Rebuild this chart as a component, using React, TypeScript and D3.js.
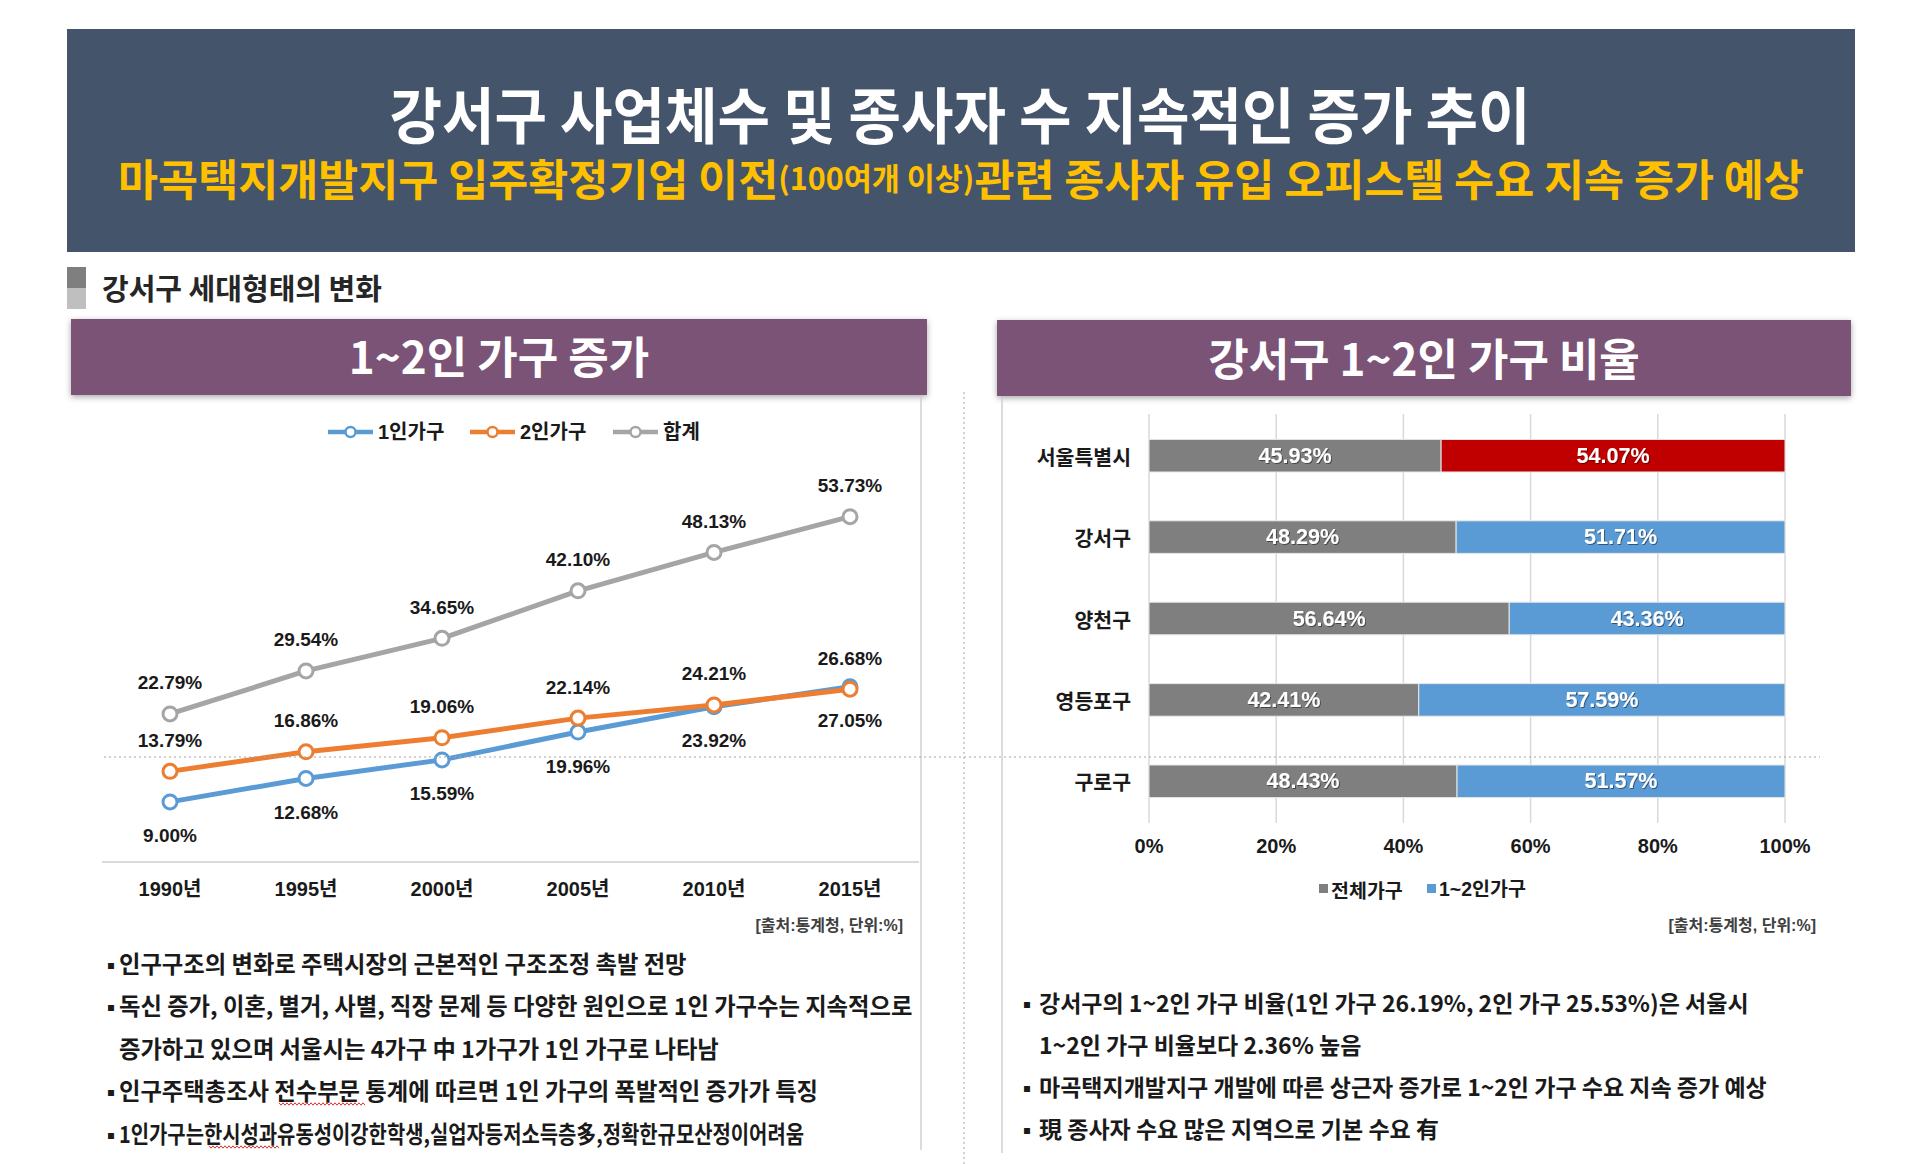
import React from 'react';
import * as d3 from 'd3';

// ---------- data ----------
const years = ['1990년', '1995년', '2000년', '2005년', '2010년', '2015년'];
const onePerson = [9.0, 12.68, 15.59, 19.96, 23.92, 27.05];
const twoPerson = [13.79, 16.86, 19.06, 22.14, 24.21, 26.68];
const totalSmall = [22.79, 29.54, 34.65, 42.1, 48.13, 53.73];
const lineSeriesNames = ['1인가구', '2인가구', '합계'];

const regions = ['서울특별시', '강서구', '양천구', '영등포구', '구로구'];
const allHouseholds = [45.93, 48.29, 56.64, 42.41, 48.43];
const smallHouseholds = [54.07, 51.71, 43.36, 57.59, 51.57];
const barSeriesNames = ['전체가구', '1~2인가구'];
const pctTicks = [0, 20, 40, 60, 80, 100];

const mainTitle = '강서구 사업체수 및 종사자 수 지속적인 증가 추이';
const subTitleA = '마곡택지개발지구 입주확정기업 이전';
const subTitleB = '(100여개 이상)';
const subTitleC = '관련 종사자 유입 오피스텔 수요 지속 증가 예상';
const sectionTitle = '강서구 세대형태의 변화';
const leftBanner = '1~2인 가구 증가';
const rightBanner = '강서구 1~2인 가구 비율';
const sourceText = '[출처:통계청, 단위:%]';

const leftBullets = [
  { b: true, t: '인구구조의 변화로 주택시장의 근본적인 구조조정 촉발 전망' },
  { b: true, t: '독신 증가, 이혼, 별거, 사별, 직장 문제 등 다양한 원인으로 1인 가구수는 지속적으로' },
  { b: false, t: '증가하고 있으며 서울시는 4가구 中 1가구가 1인 가구로 나타남' },
  { b: true, t: '인구주택총조사 전수부문 통계에 따르면 1인 가구의 폭발적인 증가가 특징' },
  { b: true, t: '1인가구는한시성과유동성이강한학생,실업자등저소득층多,정확한규모산정이어려움', squeeze: true },
];
const rightBullets = [
  { b: true, t: '강서구의 1~2인 가구 비율(1인 가구 26.19%, 2인 가구 25.53%)은 서울시' },
  { b: false, t: '1~2인 가구 비율보다 2.36% 높음' },
  { b: true, t: '마곡택지개발지구 개발에 따른 상근자 증가로 1~2인 가구 수요 지속 증가 예상' },
  { b: true, t: '現 종사자 수요 많은 지역으로 기본 수요 有' },
];

// ---------- styles ----------
const KR = "'Noto Sans CJK KR', sans-serif";
const NUM = "'Liberation Sans', Arial, 'Noto Sans CJK KR', sans-serif";
const BLUE = '#5B9BD5';
const ORANGE = '#ED7D31';
const GRAY = '#A5A5A5';
const BAR_GRAY = '#7F7F7F';
const RED = '#C00000';
const PURPLE = '#7A5276';
const HEADER = '#44546A';
const YELLOW = '#FFC000';
const TEXT = '#1a1a1a';

function wavy(x0: number, x1: number, y: number) {
  const pts: [number, number][] = [];
  let up = true;
  for (let x = x0; x <= x1; x += 2) {
    pts.push([x, up ? y - 1.2 : y + 1.2]);
    up = !up;
  }
  return d3.line()(pts) || '';
}

export default function App() {
  // ----- line chart scales -----
  const xBand = d3.scaleBand<string>().domain(years).range([102, 918]);
  const xc = (i: number) => (xBand(years[i]) as number) + xBand.bandwidth() / 2;
  const y = d3.scaleLinear().domain([0, 60]).range([859.3, 476.7]);
  const lineGen = d3
    .line<number>()
    .x((_, i) => xc(i))
    .y((d) => y(d));
  const series = [
    { name: lineSeriesNames[0], values: onePerson, color: BLUE, labelPos: 'below' },
    { name: lineSeriesNames[1], values: twoPerson, color: ORANGE, labelPos: 'above' },
    { name: lineSeriesNames[2], values: totalSmall, color: GRAY, labelPos: 'above' },
  ];
  const legendX = [328, 470, 613];

  // ----- bar chart scales -----
  const yBand = d3.scaleBand<string>().domain(regions).range([415, 822]).paddingInner(0.6).paddingOuter(0.3);
  const xPct = d3.scaleLinear().domain([0, 100]).range([1149, 1785]);
  const stacked = regions.map((r, i) => ({
    region: r,
    segs: [
      { x0: 0, x1: allHouseholds[i], v: allHouseholds[i], color: BAR_GRAY },
      {
        x0: allHouseholds[i],
        x1: allHouseholds[i] + smallHouseholds[i],
        v: smallHouseholds[i],
        color: i === 0 ? RED : BLUE,
      },
    ],
  }));

  const leftLineY = [963, 1005, 1048, 1090, 1133];
  const rightLineY = [1002, 1044, 1086, 1128];

  return (
    <svg
      width={1920}
      height={1164}
      viewBox="0 0 1920 1164"
      style={{ position: 'absolute', left: 0, top: 0, background: '#fff' }}
    >
      <defs>
        <filter id="bannerShadow" x="-5%" y="-30%" width="110%" height="160%">
          <feDropShadow dx="0" dy="2" stdDeviation="3" floodColor="#000" floodOpacity="0.35" />
        </filter>
        <filter id="txtShadow" x="-10%" y="-30%" width="120%" height="160%">
          <feDropShadow dx="1" dy="1" stdDeviation="0.7" floodColor="#000" floodOpacity="0.45" />
        </filter>
      </defs>
      <rect x={0} y={0} width={1920} height={1164} fill="#fff" />

      {/* Header */}
      <rect x={67} y={29} width={1788} height={223} fill={HEADER} />
      <text
        x={960}
        y={112}
        textAnchor="middle"
        dominantBaseline="central"
        fontFamily={KR}
        fontWeight={700}
        fontSize={61}
        fill="#fff"
        textLength={1141}
        lengthAdjust="spacingAndGlyphs"
      >
        {mainTitle}
      </text>
      <text
        x={961}
        y={177}
        textAnchor="middle"
        dominantBaseline="central"
        fontFamily={KR}
        fontWeight={700}
        fontSize={43.5}
        fill={YELLOW}
      >
        <tspan>{subTitleA}</tspan>
        <tspan fontSize={30.5}>{subTitleB}</tspan>
        <tspan>{subTitleC}</tspan>
      </text>

      {/* Section title */}
      <rect x={67} y={267} width={19} height={21} fill="#7F7F7F" />
      <rect x={67} y={288} width={19} height={21} fill="#BFBFBF" />
      <text x={102} y={287} dominantBaseline="central" fontFamily={KR} fontWeight={700} fontSize={29} fill="#262626">
        {sectionTitle}
      </text>

      {/* Banners */}
      <rect x={71} y={319} width={856} height={76} fill={PURPLE} filter="url(#bannerShadow)" />
      <text x={499} y={355} textAnchor="middle" dominantBaseline="central" fontFamily={KR} fontWeight={700} fontSize={44} fill="#fff">
        {leftBanner}
      </text>
      <rect x={997} y={320} width={854} height={76} fill={PURPLE} filter="url(#bannerShadow)" />
      <text x={1424} y={357} textAnchor="middle" dominantBaseline="central" fontFamily={KR} fontWeight={700} fontSize={44} fill="#fff">
        {rightBanner}
      </text>

      {/* separators */}
      <line x1={921} y1={396} x2={921} y2={1150} stroke="#D0D0D0" strokeWidth={1.5} />
      <line x1={1002} y1={397} x2={1002} y2={1153} stroke="#D0D0D0" strokeWidth={1.5} />
      <line x1={964} y1={392} x2={964} y2={1164} stroke="#A6A6A6" strokeWidth={1} strokeDasharray="2,3" />

      {/* ---------- Line chart ---------- */}
      {series.map((s, k) => (
        <g key={'lg' + k}>
          <line x1={legendX[k]} x2={legendX[k] + 45} y1={432} y2={432} stroke={s.color} strokeWidth={4.5} />
          <circle cx={legendX[k] + 22.5} cy={432} r={5} fill="#fff" stroke={s.color} strokeWidth={2.5} />
          <text
            x={legendX[k] + 50}
            y={432}
            dominantBaseline="central"
            fontFamily={NUM}
            fontWeight={700}
            fontSize={20}
            fill={TEXT}
          >
            {s.name}
          </text>
        </g>
      ))}
      <line x1={102} x2={919} y1={862} y2={862} stroke="#D9D9D9" strokeWidth={2} />
      {years.map((yr, i) => (
        <text
          key={yr}
          x={xc(i)}
          y={889}
          textAnchor="middle"
          dominantBaseline="central"
          fontFamily={NUM}
          fontWeight={700}
          fontSize={20}
          fill={TEXT}
        >
          {yr}
        </text>
      ))}
      {series.map((s, k) => (
        <g key={'s' + k}>
          <path d={lineGen(s.values) || ''} fill="none" stroke={s.color} strokeWidth={5} strokeLinejoin="round" />
          {s.values.map((v, i) => (
            <circle key={i} cx={xc(i)} cy={y(v)} r={7} fill="#fff" stroke={s.color} strokeWidth={3} />
          ))}
        </g>
      ))}
      {series.map((s, k) =>
        s.values.map((v, i) => (
          <text
            key={'l' + k + '-' + i}
            x={xc(i)}
            y={y(v) + (s.labelPos === 'above' ? -31 : 34)}
            textAnchor="middle"
            dominantBaseline="central"
            fontFamily={NUM}
            fontWeight={700}
            fontSize={19}
            fill={TEXT}
          >
            {v.toFixed(2) + '%'}
          </text>
        ))
      )}
      <text x={903} y={925} textAnchor="end" dominantBaseline="central" fontFamily={NUM} fontWeight={700} fontSize={16} fill="#404040">
        {sourceText}
      </text>

      {/* ---------- Bar chart ---------- */}
      {pctTicks.map((t) => (
        <g key={'g' + t}>
          <line x1={xPct(t)} x2={xPct(t)} y1={414} y2={823} stroke="#D9D9D9" strokeWidth={1.5} />
          <text
            x={xPct(t)}
            y={846}
            textAnchor="middle"
            dominantBaseline="central"
            fontFamily={NUM}
            fontWeight={700}
            fontSize={20}
            fill={TEXT}
          >
            {t + '%'}
          </text>
        </g>
      ))}
      {stacked.map((row) => {
        const by = yBand(row.region) as number;
        const bh = yBand.bandwidth();
        return (
          <g key={row.region}>
            <text
              x={1131}
              y={by + bh / 2}
              textAnchor="end"
              dominantBaseline="central"
              fontFamily={KR}
              fontWeight={700}
              fontSize={20.5}
              fill={TEXT}
            >
              {row.region}
            </text>
            {row.segs.map((sg, j) => (
              <rect
                key={j}
                x={xPct(sg.x0)}
                y={by}
                width={xPct(sg.x1) - xPct(sg.x0)}
                height={bh}
                fill={sg.color}
                stroke="#E7E7E7"
                strokeWidth={1}
              />
            ))}
            {row.segs.map((sg, j) => (
              <text
                key={'t' + j}
                x={(xPct(sg.x0) + xPct(sg.x1)) / 2}
                y={by + bh / 2}
                textAnchor="middle"
                dominantBaseline="central"
                fontFamily={NUM}
                fontWeight={700}
                fontSize={21.5}
                fill="#fff"
                filter="url(#txtShadow)"
              >
                {sg.v.toFixed(2) + '%'}
              </text>
            ))}
          </g>
        );
      })}
      {/* bar legend */}
      <rect x={1319} y={884} width={9} height={9} fill={BAR_GRAY} />
      <text x={1331} y={889} dominantBaseline="central" fontFamily={KR} fontWeight={700} fontSize={19.5} fill={TEXT}>
        {barSeriesNames[0]}
      </text>
      <rect x={1427} y={884} width={9} height={9} fill={BLUE} />
      <text x={1439} y={889} dominantBaseline="central" fontFamily={NUM} fontWeight={700} fontSize={19.5} fill={TEXT}>
        {barSeriesNames[1]}
      </text>
      <text x={1816} y={925} textAnchor="end" dominantBaseline="central" fontFamily={NUM} fontWeight={700} fontSize={16} fill="#404040">
        {sourceText}
      </text>

      {/* dotted horizontal line */}
      <line x1={104} x2={1820} y1={757} y2={757} stroke="#A6A6A6" strokeWidth={1} strokeDasharray="2,3" />

      {/* ---------- Bullets ---------- */}
      {leftBullets.map((l, i) => (
        <g key={'lb' + i}>
          {l.b && (
            <text x={111} y={leftLineY[i] + 1} textAnchor="middle" dominantBaseline="central" fontFamily={KR} fontSize={22} fill={TEXT}>
              ▪
            </text>
          )}
          <text
            x={119}
            y={leftLineY[i]}
            dominantBaseline="central"
            fontFamily={KR}
            fontWeight={700}
            fontSize={23.3}
            fill={TEXT}
            {...(l.squeeze ? { textLength: 685, lengthAdjust: 'spacingAndGlyphs' } : {})}
          >
            {l.t}
          </text>
        </g>
      ))}
      <path d={wavy(279, 366, 1104)} fill="none" stroke="#E03030" strokeWidth={1} />
      <path d={wavy(209, 279, 1147)} fill="none" stroke="#E03030" strokeWidth={1} />
      {rightBullets.map((l, i) => (
        <g key={'rb' + i}>
          {l.b && (
            <text x={1027} y={rightLineY[i] + 1} textAnchor="middle" dominantBaseline="central" fontFamily={KR} fontSize={22} fill={TEXT}>
              ▪
            </text>
          )}
          <text
            x={1039}
            y={rightLineY[i]}
            dominantBaseline="central"
            fontFamily={KR}
            fontWeight={700}
            fontSize={23}
            fill={TEXT}
          >
            {l.t}
          </text>
        </g>
      ))}
    </svg>
  );
}
